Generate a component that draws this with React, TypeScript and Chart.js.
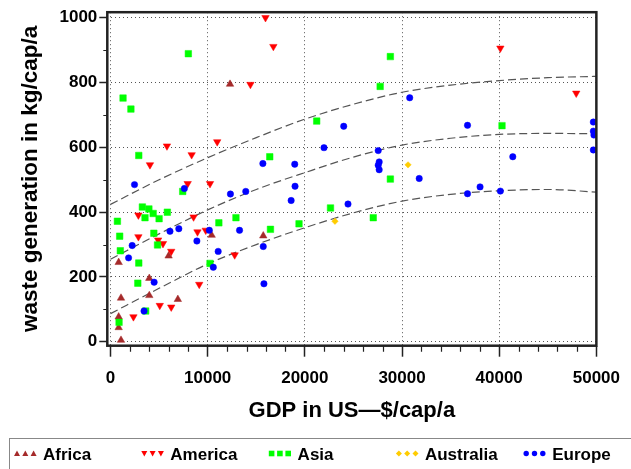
import React, { useEffect, useRef } from 'react';
import { Chart, registerables } from 'chart.js';

Chart.register(...registerables);

// ---------------- data ----------------
const seriesNames = ['Africa', 'America', 'Asia', 'Australia', 'Europe'];

const africaGdp = [12300, 1080, 840, 840, 1080, 3990, 3990, 6930, 840, 5980, 10410, 15720];
const africaWaste = [795, 5, 44, 77, 135, 196, 143, 131, 245, 265, 329, 327];

const americaGdp = [15950, 16760, 14400, 10980, 5810, 8350, 4060, 40120, 47930, 7940, 10240, 2870, 8550, 2870, 8950, 9800, 4900, 5400, 6250, 12780, 9130, 5070, 6250, 2360];
const americaWaste = [1000, 911, 794, 617, 604, 577, 546, 906, 767, 488, 488, 391, 385, 324, 339, 344, 314, 303, 279, 268, 177, 112, 107, 77];

const asiaGdp = [8010, 1290, 2100, 2910, 16390, 28800, 27750, 21220, 40290, 28800, 22640, 27040, 19400, 7430, 3280, 3950, 3550, 4390, 5000, 5850, 710, 11150, 12910, 945, 4460, 4840, 1010, 2910, 10240, 2810, 3620, 880, 16460];
const asiaWaste = [889, 752, 718, 575, 571, 880, 788, 681, 667, 502, 413, 383, 364, 464, 416, 410, 383, 396, 380, 400, 372, 367, 383, 326, 335, 299, 281, 243, 242, 181, 95, 60, 347];

const australiaGdp = [23100, 30620];
const australiaWaste = [372, 546];

const europeGdp = [15680, 18960, 30790, 24000, 36740, 49690, 49690, 49750, 49690, 21970, 27550, 27650, 27550, 27650, 31770, 41400, 38030, 36740, 40120, 24440, 18990, 18590, 12340, 13920, 10170, 8890, 13280, 15720, 11080, 10580, 15790, 2470, 7600, 6120, 7030, 2230, 1860, 4490, 3450];
const europeWaste = [550, 548, 753, 665, 668, 678, 650, 638, 592, 599, 590, 555, 545, 531, 504, 571, 478, 457, 465, 425, 480, 436, 456, 464, 344, 311, 344, 294, 279, 230, 179, 485, 473, 341, 349, 297, 259, 184, 95];

const curveGdp = [0, 5000, 10000, 15000, 20000, 25000, 30000, 35000, 40000, 45000, 50000];
const upperCurve = [424, 500, 568, 630, 687, 733, 770, 792, 806, 815, 819];
const middleCurve = [255, 333, 407, 470, 522, 570, 607, 628, 640, 643, 642];
const lowerCurve = [87, 165, 240, 300, 352, 398, 434, 455, 466, 470, 462];

const xMajorTicks = [0, 10000, 20000, 30000, 40000, 50000];
const xMinorTicks = [2000, 4000, 6000, 8000, 12000, 14000, 16000, 18000, 22000, 24000, 26000, 28000, 32000, 34000, 36000, 38000, 42000, 44000, 46000, 48000];
const yMajorTicks = [0, 200, 400, 600, 800, 1000];
const yMinorTicks = [100, 300, 500, 700, 900];

const xTitle = 'GDP in US—$/cap/a';
const yTitle = 'waste generation in kg/cap/a';

// ---------------- styles ----------------
const FONT = '"Liberation Sans", Arial, Helvetica, sans-serif';
const seriesColors = ['#a52a2a', '#ff0000', '#00ff00', '#ffcc00', '#0000ff'];
const seriesStyles = ['triangle', 'triangle', 'rect', 'rectRot', 'circle'];
const seriesRotation = [0, 180, 0, 0, 0];
const seriesRadius = [4.3, 4.3, 4.6, 3.2, 3.2];
const seriesOrder = [4, 3, 2, 1, 0];

const zip = (xs: number[], ys: number[]) => xs.map((x, i) => ({ x, y: ys[i] }));

function drawLegendMarker(ctx: CanvasRenderingContext2D, kind: number, x: number, y: number) {
  ctx.beginPath();
  if (kind === 0) {
    ctx.moveTo(x, y - 3);
    ctx.lineTo(x + 3, y + 2.4);
    ctx.lineTo(x - 3, y + 2.4);
  } else if (kind === 1) {
    ctx.moveTo(x - 3, y - 2.4);
    ctx.lineTo(x + 3, y - 2.4);
    ctx.lineTo(x, y + 3);
  } else if (kind === 2) {
    ctx.rect(x - 2.8, y - 2.8, 5.6, 5.6);
  } else if (kind === 3) {
    ctx.moveTo(x, y - 3);
    ctx.lineTo(x + 3, y);
    ctx.lineTo(x, y + 3);
    ctx.lineTo(x - 3, y);
  } else {
    ctx.arc(x, y, 2.7, 0, Math.PI * 2);
  }
  ctx.closePath();
  ctx.fill();
}

const decorPlugin = {
  id: 'decor',
  afterDraw(chart: any) {
    const { ctx, chartArea: a, scales } = chart;
    const xs = scales.x;
    const ys = scales.y;
    ctx.save();
    // minor ticks
    ctx.strokeStyle = '#222';
    ctx.lineWidth = 1.2;
    ctx.beginPath();
    for (const v of xMinorTicks) {
      const px = Math.round(xs.getPixelForValue(v)) + 0.5;
      ctx.moveTo(px, a.bottom);
      ctx.lineTo(px, a.bottom + 6);
    }
    for (const v of yMinorTicks) {
      const py = Math.round(ys.getPixelForValue(v)) + 0.5;
      ctx.moveTo(a.left - 4, py);
      ctx.lineTo(a.left, py);
    }
    ctx.stroke();
    // frame
    ctx.lineWidth = 2.5;
    ctx.strokeStyle = '#222';
    ctx.strokeRect(a.left, a.top, a.right - a.left, a.bottom - a.top);
    // legend box
    ctx.lineWidth = 1;
    ctx.strokeStyle = '#888';
    ctx.strokeRect(9.5, 438.5, 700, 60);
    // legend items
    const legendY = 454;
    ctx.font = `bold 17px ${FONT}`;
    ctx.textBaseline = 'middle';
    ctx.textAlign = 'left';
    seriesNames.forEach((name, i) => {
      const start = 14 + i * 127.3;
      ctx.fillStyle = seriesColors[i];
      for (let k = 0; k < 3; k++) drawLegendMarker(ctx, i, start + 3 + k * 8.3, legendY - 0.5);
      ctx.fillStyle = '#000';
      ctx.fillText(name, start + 29, legendY + 1);
    });
    ctx.restore();
  },
};

export default function App() {
  const canvasRef = useRef<HTMLCanvasElement | null>(null);

  useEffect(() => {
    if (!canvasRef.current) return;
    const series = [
      [africaGdp, africaWaste],
      [americaGdp, americaWaste],
      [asiaGdp, asiaWaste],
      [australiaGdp, australiaWaste],
      [europeGdp, europeWaste],
    ];
    const pointSets = series.map(([xs, ys], i) => ({
      label: seriesNames[i],
      data: zip(xs, ys),
      pointStyle: seriesStyles[i],
      rotation: seriesRotation[i],
      pointRadius: seriesRadius[i],
      backgroundColor: seriesColors[i],
      borderColor: seriesColors[i],
      borderWidth: 0.5,
      order: seriesOrder[i],
    }));
    const curveSets = [upperCurve, middleCurve, lowerCurve].map((c) => ({
      label: '',
      data: zip(curveGdp, c),
      showLine: true,
      borderColor: '#555',
      borderWidth: 1.2,
      borderDash: [8, 4],
      pointRadius: 0,
      cubicInterpolationMode: 'monotone',
      fill: false,
      order: 10,
    }));

    const chart = new Chart(canvasRef.current, {
      type: 'scatter',
      data: { datasets: [...pointSets, ...curveSets] as any },
      options: {
        animation: false,
        responsive: false,
        events: [],
        layout: { padding: { left: 0, top: 9.5, right: 28, bottom: 40 } },
        plugins: { legend: { display: false }, tooltip: { enabled: false } },
        scales: {
          x: {
            type: 'linear',
            bounds: 'data',
            min: -330,
            max: 50000,
            afterBuildTicks: (s: any) => {
              s.ticks = xMajorTicks.map((v) => ({ value: v }));
            },
            afterFit: (s: any) => {
              s.height = 83.3;
            },
            grid: {
              color: '#555',
              lineWidth: 1,
              drawTicks: true,
              tickLength: 11,
              tickColor: '#222',
              tickWidth: 1.5,
              tickBorderDash: [],
            },
            border: { display: false, dash: [1, 3] },
            ticks: {
              color: '#000',
              font: { family: FONT, size: 17, weight: 'bold' },
              padding: 11,
              maxRotation: 0,
              autoSkip: false,
              callback: (v: any) => String(v),
            },
            title: {
              display: true,
              text: xTitle,
              color: '#000',
              font: { family: FONT, size: 22, weight: 'bold' },
              padding: { top: 0, bottom: 4.8 },
            },
          },
          y: {
            type: 'linear',
            bounds: 'data',
            min: -12,
            max: 1017,
            afterBuildTicks: (s: any) => {
              s.ticks = yMajorTicks.map((v) => ({ value: v }));
            },
            afterFit: (s: any) => {
              s.width = 107.3;
            },
            grid: {
              color: '#555',
              lineWidth: 1,
              drawTicks: true,
              tickLength: 8,
              tickColor: '#222',
              tickWidth: 1.5,
              tickBorderDash: [],
            },
            border: { display: false, dash: [1, 3] },
            ticks: {
              color: '#000',
              font: { family: FONT, size: 17, weight: 'bold' },
              padding: 2,
              autoSkip: false,
              callback: (v: any) => String(v),
            },
            title: {
              display: true,
              text: yTitle,
              color: '#000',
              font: { family: FONT, size: 22.5, weight: 'bold' },
              padding: { top: 17, bottom: 0 },
            },
          },
        },
      } as any,
      plugins: [decorPlugin],
    });
    return () => chart.destroy();
  }, []);

  return (
    <div style={{ position: 'absolute', left: 0, top: 0, width: 631, height: 469, background: '#fff' }}>
      <canvas ref={canvasRef} width={631} height={469} />
    </div>
  );
}
